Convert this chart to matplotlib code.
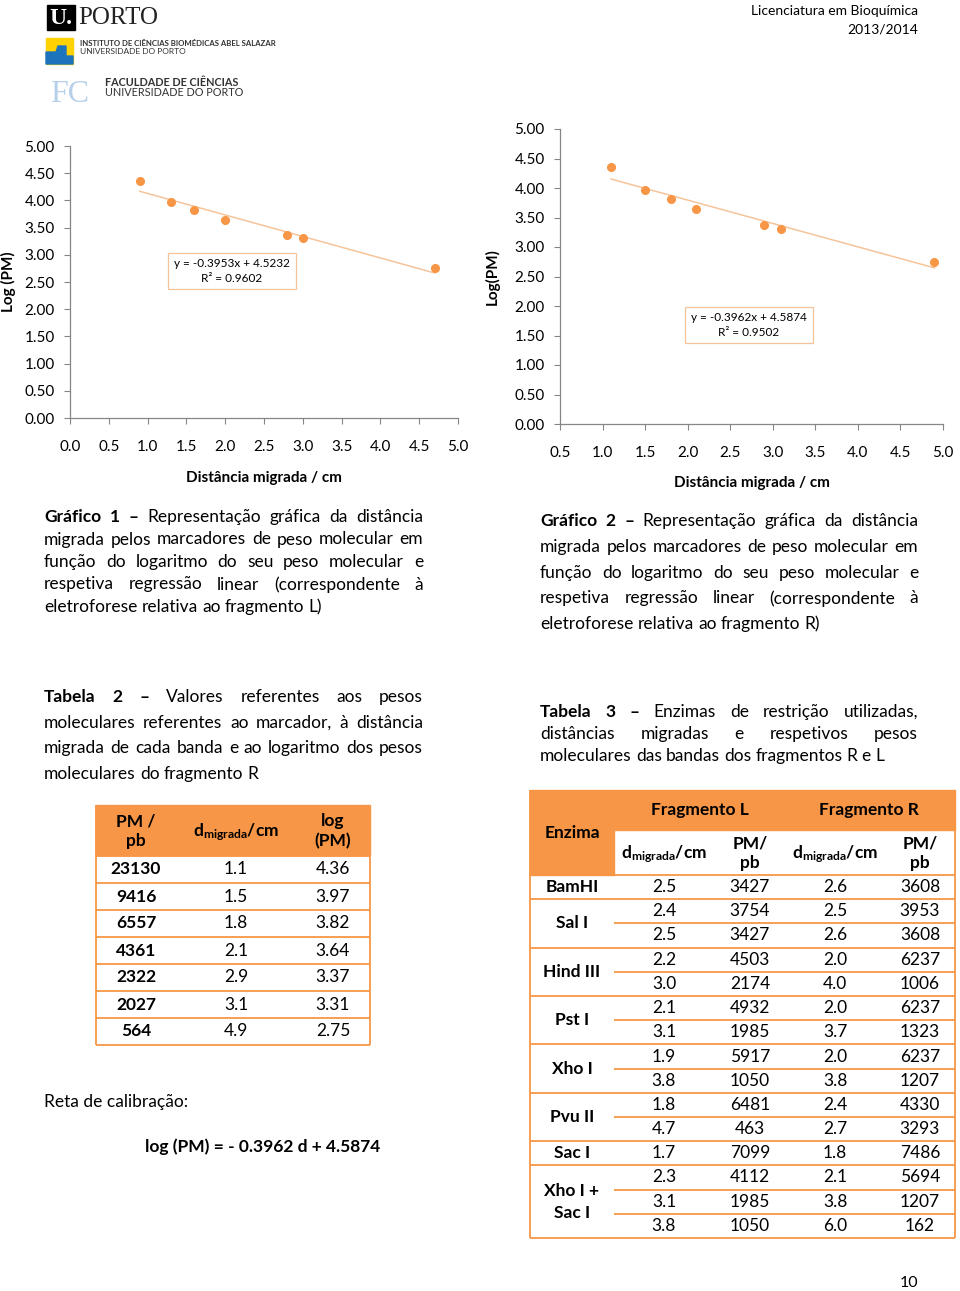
import matplotlib
matplotlib.use('Agg')
import matplotlib.pyplot as plt
from matplotlib.patches import Rectangle, Polygon
from matplotlib.ticker import FormatStrFormatter, MultipleLocator

plt.rcParams['font.family'] = ['Lato', 'DejaVu Sans']
plt.rcParams['mathtext.fontset'] = 'custom'
plt.rcParams['mathtext.rm'] = 'Lato'
plt.rcParams['mathtext.bf'] = 'Lato:bold'

# dados - marcador (Tabela 2 / gráficos)
marcador_pm = [23130, 9416, 6557, 4361, 2322, 2027, 564]
log_pm = [4.36, 3.97, 3.82, 3.64, 3.37, 3.31, 2.75]
dist_L = [0.9, 1.3, 1.6, 2.0, 2.8, 3.0, 4.7]
dist_R = [1.1, 1.5, 1.8, 2.1, 2.9, 3.1, 4.9]
reta_L = (-0.3953, 4.5232, 0.9602)
reta_R = (-0.3962, 4.5874, 0.9502)

# dados - Tabela 3
enzimas = ['BamHI', 'Sal I', 'Hind III', 'Pst I', 'Xho I', 'Pvu II', 'Sac I', 'Xho I +\nSac I']
n_bandas = [1, 2, 2, 2, 2, 2, 1, 3]
d_frag_L = [2.5, 2.4, 2.5, 2.2, 3.0, 2.1, 3.1, 1.9, 3.8, 1.8, 4.7, 1.7, 2.3, 3.1, 3.8]
pm_frag_L = [3427, 3754, 3427, 4503, 2174, 4932, 1985, 5917, 1050, 6481, 463, 7099, 4112, 1985, 1050]
d_frag_R = [2.6, 2.5, 2.6, 2.0, 4.0, 2.0, 3.7, 2.0, 3.8, 2.4, 2.7, 1.8, 2.1, 3.8, 6.0]
pm_frag_R = [3608, 3953, 3608, 6237, 1006, 6237, 1323, 6237, 1207, 4330, 3293, 7486, 5694, 1207, 162]

LARANJA = '#F79646'
LINHA_TEND = '#F6C49A'
CINZA = '#868686'
W, H = 960, 1291
FS = 12.5  # texto do corpo

fig = plt.figure(figsize=(9.6, 12.91), dpi=100)
page = fig.add_axes([0, 0, 1, 1])
page.set_xlim(0, W)
page.set_ylim(H, 0)
page.axis('off')
rend = fig.canvas.get_renderer()


def txt(x, y, s, **kw):
    kw.setdefault('va', 'center')
    kw.setdefault('fontsize', FS)
    return page.text(x, y, s, **kw)


# ---- cabeçalho / logos ----
page.add_patch(Rectangle((47, 5), 28, 25, color='black'))
txt(61, 18, 'U.', color='white', fontsize=17, family='Liberation Serif', ha='center', fontweight='bold')
txt(78, 18, 'PORTO', fontsize=18, family='Liberation Serif', color='#222222')
page.add_patch(Rectangle((46, 38), 27, 26, color='#FFD200'))
page.add_patch(Polygon([(46, 64), (46, 52), (56, 52), (58, 46), (66, 46), (66, 56), (73, 56), (73, 64)],
                       color='#1C75BC'))
txt(80, 43, 'INSTITUTO DE CIÊNCIAS BIOMÉDICAS ABEL SALAZAR', fontsize=5.6, fontweight='bold', color='#333333')
txt(80, 51.5, 'UNIVERSIDADE DO PORTO', fontsize=6, color='#333333')
txt(50, 94, 'FC', fontsize=23, family='Liberation Serif', color='#B7D0EA')
txt(105, 83, 'FACULDADE DE CIÊNCIAS', fontsize=7.8, fontweight='bold', color='#333333')
txt(105, 92.5, 'UNIVERSIDADE DO PORTO', fontsize=7.8, color='#333333')
txt(918, 11, 'Licenciatura em Bioquímica', ha='right', fontsize=10)
txt(918, 29, '2013/2014', ha='right', fontsize=10)


# ---- gráficos ----
def grafico(px, xlim, dist, reta, ylab, ylab_x, xlab_y, caixa):
    l, r, t, b = px
    ax = fig.add_axes([l / W, 1 - b / H, (r - l) / W, (b - t) / H])
    ax.patch.set_alpha(0)
    m, c, r2 = reta
    ax.plot([min(dist), max(dist)], [m * min(dist) + c, m * max(dist) + c],
            color=LINHA_TEND, lw=1.1, zorder=1)
    ax.plot(dist, log_pm, 'o', color=LARANJA, ms=5.5, zorder=2)
    ax.set_xlim(*xlim)
    ax.set_ylim(0, 5)
    ax.xaxis.set_major_locator(MultipleLocator(0.5))
    ax.yaxis.set_major_locator(MultipleLocator(0.5))
    ax.xaxis.set_major_formatter(FormatStrFormatter('%.1f'))
    ax.yaxis.set_major_formatter(FormatStrFormatter('%.2f'))
    for s in ['top', 'right']:
        ax.spines[s].set_visible(False)
    for s in ['left', 'bottom']:
        ax.spines[s].set_color(CINZA)
        ax.spines[s].set_linewidth(0.9)
    ax.tick_params(direction='out', length=4, color=CINZA, labelsize=11)
    ax.tick_params(axis='y', pad=7)
    ax.tick_params(axis='x', pad=12)
    txt(ylab_x, (t + b) / 2, ylab, rotation=90, ha='center', fontweight='bold', fontsize=11)
    txt((l + r) / 2, xlab_y, 'Distância migrada / cm', ha='center', fontweight='bold', fontsize=11)
    txt(caixa[0], caixa[1], 'y = %.4fx + %.4f\nR² = %.4f' % (m, c, r2), ha='center', fontsize=8.5,
        linespacing=1.35,
        bbox=dict(boxstyle='square,pad=0.5', fc='white', ec=LINHA_TEND, lw=0.9))
    return ax


grafico((70, 458, 146, 418), (0, 5), dist_L, reta_L, 'Log (PM)', 8, 478, (232, 271))
grafico((560, 943, 129, 424), (0.5, 5), dist_R, reta_R, 'Log(PM)', 492, 483, (749, 325))


# ---- texto justificado ----
def paragrafo(linhas, x0, x1, y0, dy, n_bold, size=FS):
    cont = 0
    for i, linha in enumerate(linhas):
        arts = []
        for w in linha.split(' '):
            peso = 'bold' if cont < n_bold else 'normal'
            cont += 1
            arts.append(txt(0, y0 + i * dy, w, fontsize=size, fontweight=peso))
        larg = [a.get_window_extent(rend).width for a in arts]
        if i == len(linhas) - 1:
            gap = size * 0.24 * 100 / 72
        else:
            gap = (x1 - x0 - sum(larg)) / (len(arts) - 1)
        x = x0
        for a, lw_ in zip(arts, larg):
            a.set_x(x)
            x += lw_ + gap


paragrafo(['Gráfico 1 – Representação gráfica da distância',
           'migrada pelos marcadores de peso molecular em',
           'função do logaritmo do seu peso molecular e',
           'respetiva regressão linear (correspondente à',
           'eletroforese relativa ao fragmento L)'], 44, 423, 517, 22.5, 3)
paragrafo(['Gráfico 2 – Representação gráfica da distância',
           'migrada pelos marcadores de peso molecular em',
           'função do logaritmo do seu peso molecular e',
           'respetiva regressão linear (correspondente à',
           'eletroforese relativa ao fragmento R)'], 540, 918, 521, 25.8, 3)
paragrafo(['Tabela 2 – Valores referentes aos pesos',
           'moleculares referentes ao marcador, à distância',
           'migrada de cada banda e ao logaritmo dos pesos',
           'moleculares do fragmento R'], 44, 423, 697, 25.7, 3)
paragrafo(['Tabela 3 – Enzimas de restrição utilizadas,',
           'distâncias migradas e respetivos pesos',
           'moleculares das bandas dos fragmentos R e L'], 540, 918, 712, 22, 3)

txt(44, 1102, 'Reta de calibração:')
txt(263, 1147, 'log (PM) = - 0.3962 d + 4.5874', ha='center', fontweight='bold')
txt(909, 1283, '10', ha='center', fontsize=11.5)

DMIG = r'$\mathbf{d_{migrada}/cm}$'
LW = 1.3

# ---- Tabela 2 ----
t2l, t2r, t2t, t2h = 96, 370, 805, 50
rh2 = 27
page.add_patch(Rectangle((t2l, t2t), t2r - t2l, t2h, color=LARANJA))
y_lin = t2t + t2h + 1
page.vlines([t2l, t2r], t2t, y_lin + rh2 * len(marcador_pm), color=LARANJA, lw=LW)
txt(136, t2t + 26, 'PM /\npb', ha='center', fontweight='bold', linespacing=1.3)
txt(236, t2t + 27, DMIG, ha='center')
txt(333, t2t + 26, 'log\n(PM)', ha='center', fontweight='bold', linespacing=1.3)
for i, (pm, d, lg) in enumerate(zip(marcador_pm, dist_R, log_pm)):
    yc = y_lin + rh2 * (i + 0.5)
    txt(136, yc, str(pm), ha='center', fontweight='bold')
    txt(236, yc, '%.1f' % d, ha='center')
    txt(333, yc, '%.2f' % lg, ha='center')
    page.hlines(y_lin + rh2 * (i + 1), t2l, t2r, color=LARANJA, lw=LW)
page.hlines(y_lin, t2l, t2r, color=LARANJA, lw=LW)

# ---- Tabela 3 ----
t3l, t3r, t3c = 530, 955, 614
t3t, t3m, t3b = 790, 830, 875
rh3 = 24.2
n_lin = len(d_frag_L)
page.add_patch(Rectangle((t3l, t3t), t3r - t3l, t3m - t3t, color=LARANJA))
page.add_patch(Rectangle((t3l, t3m), t3c - t3l, t3b - t3m, color=LARANJA))
page.vlines([t3l, t3r], t3t, t3b + rh3 * n_lin, color=LARANJA, lw=LW)
page.hlines(t3b, t3l, t3r, color=LARANJA, lw=LW)
txt(700, 810, 'Fragmento L', ha='center', fontweight='bold')
txt(869, 810, 'Fragmento R', ha='center', fontweight='bold')
txt(572, 833, 'Enzima', ha='center', fontweight='bold')
colunas = [664, 750, 835, 920]
for xc, hd in zip(colunas, [DMIG, 'PM/\npb', DMIG, 'PM/\npb']):
    if hd == DMIG:
        txt(xc, 854, hd, ha='center')
    else:
        txt(xc, 853, hd, ha='center', fontweight='bold', linespacing=1.3)

k = 0
for enz, n in zip(enzimas, n_bandas):
    y_ini = t3b + rh3 * k
    txt(572, y_ini + rh3 * n / 2, enz, ha='center', fontweight='bold', linespacing=1.45)
    for j in range(n):
        yc = t3b + rh3 * (k + 0.5)
        vals = ['%.1f' % d_frag_L[k], str(pm_frag_L[k]), '%.1f' % d_frag_R[k], str(pm_frag_R[k])]
        for xc, v in zip(colunas, vals):
            txt(xc, yc, v, ha='center')
        k += 1
        x_ini = t3l if j == n - 1 else t3c
        page.hlines(t3b + rh3 * k, x_ini, t3r, color=LARANJA, lw=LW)

fig.savefig('out.png', dpi=100)
